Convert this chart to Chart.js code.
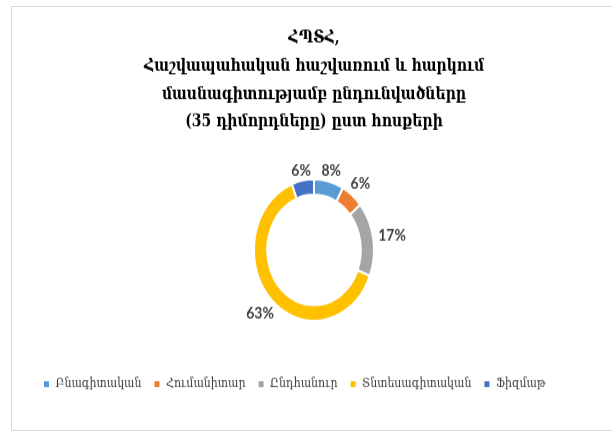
<!DOCTYPE html>
<html>
<head>
<meta charset="utf-8">
<script src="https://cdn.jsdelivr.net/npm/chart.js@4.4.0/dist/chart.umd.min.js"></script>
<style>
html,body{margin:0;padding:0;background:#fff;overflow:hidden;}
#frame{position:absolute;left:11px;top:6px;width:620px;height:423px;border:1px solid #d9d9d9;border-right:none;}
#wrap{position:absolute;left:0;top:0;width:612px;height:370px;transform:scaleY(1.18);transform-origin:0 0;}
</style>
</head>
<body>
<div id="frame"></div>
<div id="wrap"><canvas id="chart" width="612" height="370"></canvas></div>
<script>
const titleLines = ["ՀՊՏՀ,", "Հաշվապահական հաշվառում և հարկում", "մասնագիտությամբ ընդունվածները", "(35 դիմորդները) ըստ հոսքերի"];
const categories = ["Բնագիտական", "Հումանիտար", "Ընդհանուր", "Տնտեսագիտական", "Ֆիզմաթ"];
const shares = [8, 6, 17, 63, 6];
const colors = ["#5B9BD5", "#ED7D31", "#A5A5A5", "#FFC000", "#4472C4"];

// percentage labels just outside the ring
const outsideLabels = {
  id: "outsideLabels",
  afterDatasetsDraw(chart){
    const ctx = chart.ctx;
    const meta = chart.getDatasetMeta(0);
    ctx.save();
    ctx.font = "bold 14px Lato";
    ctx.fillStyle = "#404040";
    ctx.textAlign = "center";
    ctx.textBaseline = "middle";
    meta.data.forEach((arc, i) => {
      const p = arc.getProps(["x","y","startAngle","endAngle","outerRadius"], true);
      const a = (p.startAngle + p.endAngle) / 2;
      const txt = shares[i] + "%";
      const hw = ctx.measureText(txt).width / 2, hh = 2;
      const d = p.outerRadius + 5 + hw*Math.abs(Math.cos(a)) + hh*Math.abs(Math.sin(a));
      ctx.fillText(txt, p.x + d*Math.cos(a), p.y + d*Math.sin(a));
    });
    ctx.restore();
  }
};

new Chart(document.getElementById("chart"), {
  type: "doughnut",
  data: {
    labels: categories,
    datasets: [{
      data: shares,
      backgroundColor: colors,
      borderColor: "#fff",
      borderWidth: 2
    }]
  },
  options: {
    responsive: false,
    animation: false,
    radius: 60,
    cutout: "78%",
    layout: { padding: { left: 31, right: 15, top: 0, bottom: 29 } },
    plugins: {
      tooltip: { enabled: false },
      title: {
        display: true,
        text: titleLines,
        color: "#000",
        font: { family: "'DejaVu Serif', 'DejaVu Sans'", size: 14, weight: "bold", lineHeight: 1.69 },
        padding: { top: 21, bottom: 0 }
      },
      legend: {
        position: "bottom",
        align: "start",
        labels: {
          boxWidth: 7,
          boxHeight: 7,
          padding: 12,
          color: "#404040",
          font: { family: "'DejaVu Serif', 'DejaVu Sans'", size: 11 }
        }
      }
    }
  },
  plugins: [outsideLabels]
});
</script>
</body>
</html>
